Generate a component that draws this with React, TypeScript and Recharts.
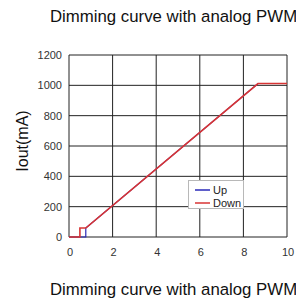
import { LineChart, Line, XAxis, YAxis, CartesianGrid } from "recharts";

const TITLE = "Dimming curve with analog PWM";
const Y_LABEL = "Iout(mA)";

const xTicks = [0, 2, 4, 6, 8, 10];
const yTicks = [0, 200, 400, 600, 800, 1000, 1200];

// hysteresis near the bottom: Up turns on at 0.77, Down turns off at 0.5
const upX = [0, 0.77, 0.77, 8.67, 10];
const upY = [0, 0, 59, 1012, 1012];
const downX = [10, 8.67, 0.77, 0.5, 0.5, 0];
const downY = [1012, 1012, 59, 59, 0, 0];

const series = [
  { name: "Up", color: "#2a2ab8", width: 1.2, data: upX.map((x, i) => ({ x, y: upY[i] })) },
  { name: "Down", color: "#d83434", width: 1.6, data: downX.map((x, i) => ({ x, y: downY[i] })) },
];

const FONT = "'Liberation Sans', Arial, sans-serif";

function LegendBox() {
  return (
    <div
      style={{
        position: "absolute",
        left: 188,
        top: 180,
        width: 56,
        height: 29,
        boxSizing: "border-box",
        border: "1px solid #b8b8b8",
        background: "#fff",
        fontFamily: FONT,
        fontSize: 11,
        color: "#222",
        padding: "2px 0 0 6px",
      }}
    >
      {series.map((s) => (
        <div key={s.name} style={{ display: "flex", alignItems: "center", height: 13 }}>
          <svg width={15} height={4} style={{ marginRight: 3 }}>
            <line x1={0} y1={2} x2={15} y2={2} stroke={s.color} strokeWidth={1.5} />
          </svg>
          <span>{s.name}</span>
        </div>
      ))}
    </div>
  );
}

export default function App() {
  return (
    <div style={{ position: "absolute", left: 0, top: 0, width: 296, height: 304, overflow: "hidden", background: "#fff" }}>
      <LineChart width={296} height={304} margin={{ top: 55, right: 9, bottom: 37, left: 0 }}>
        <CartesianGrid stroke="#222" strokeWidth={1} ticks={xTicks} />
        <XAxis
          dataKey="x"
          type="number"
          domain={[0, 10]}
          ticks={xTicks}
          height={30}
          axisLine={false}
          tickLine={false}
          tickSize={0}
          tickMargin={11}
          dx={1}
          tick={{ fontSize: 11, fill: "#333", fontFamily: FONT }}
        />
        <YAxis
          dataKey="y"
          type="number"
          domain={[0, 1200]}
          ticks={yTicks}
          width={69}
          axisLine={false}
          tickLine={false}
          tickSize={0}
          tickMargin={7}
          tick={{ fontSize: 11, fill: "#333", fontFamily: FONT }}
        />
        {series.map((s) => (
          <Line
            key={s.name}
            data={s.data}
            dataKey="y"
            name={s.name}
            type="linear"
            stroke={s.color}
            strokeWidth={s.width}
            dot={false}
            isAnimationActive={false}
          />
        ))}
      </LineChart>
      <LegendBox />
      <svg width={296} height={304} style={{ position: "absolute", left: 0, top: 0, pointerEvents: "none" }}>
        <text x={50} y={22} fontFamily={FONT} fontSize={16.8} fill="#111">{TITLE}</text>
        <text x={50} y={295} fontFamily={FONT} fontSize={16.8} fill="#111">{TITLE}</text>
        <text
          x={22}
          y={141}
          transform="rotate(-90 22 141)"
          textAnchor="middle"
          dominantBaseline="central"
          fontFamily={FONT}
          fontSize={16}
          fill="#111"
        >
          {Y_LABEL}
        </text>
      </svg>
    </div>
  );
}
